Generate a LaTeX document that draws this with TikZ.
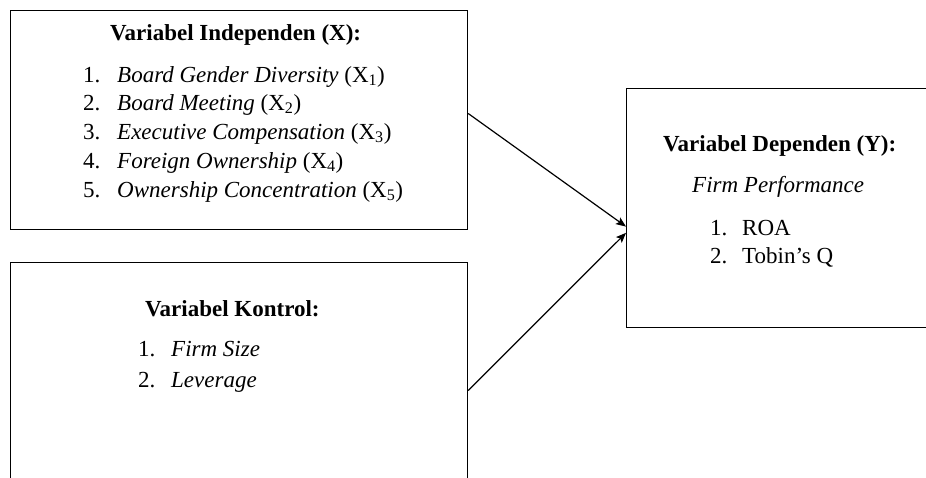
\documentclass[tikz,border=0pt]{standalone}
\usepackage{fontspec}
\setmainfont{Liberation Serif}
\usetikzlibrary{arrows.meta,calc}
\tikzset{
  boxst/.style={draw, line width=1.2pt, rectangle, inner sep=0pt, anchor=north west},
  txt/.style={anchor=base west, inner sep=0pt, font=\fontsize{23}{27}\selectfont},
  arr/.style={line width=1.2pt, -{Stealth[length=10pt,width=8pt,inset=2pt]}}
}
\begin{document}
\begin{tikzpicture}[x=1pt,y=-1pt]
\useasboundingbox (0,0) rectangle (926,477);
\clip (0,0) rectangle (926,477);
% boxes
\node[boxst, minimum width=457pt, minimum height=219pt] (indep) at (10,10) {};
\node[boxst, minimum width=457pt, minimum height=240pt] (ctrl) at (10,262) {};
\node[boxst, minimum width=320pt, minimum height=239pt] (dep) at (626,88) {};
% box 1 text
\node[txt] (t1) at (110,40) {\textbf{Variabel Independen (X):}};
\node[txt] (n11) at (83,82) {1.};
\node[txt] (i11) at (117,82) {\textit{Board Gender Diversity} (X\textsubscript{1})};
\node[txt] (n12) at (83,110) {2.};
\node[txt] (i12) at (117,110) {\textit{Board Meeting} (X\textsubscript{2})};
\node[txt] (n13) at (83,139) {3.};
\node[txt] (i13) at (117,139) {\textit{Executive Compensation} (X\textsubscript{3})};
\node[txt] (n14) at (83,168) {4.};
\node[txt] (i14) at (117,168) {\textit{Foreign Ownership} (X\textsubscript{4})};
\node[txt] (n15) at (83,197) {5.};
\node[txt] (i15) at (117,197) {\textit{Ownership Concentration} (X\textsubscript{5})};
% box 2 text
\node[txt] (t2) at (145,316) {\textbf{Variabel Kontrol:}};
\node[txt] (n21) at (138,356) {1.};
\node[txt] (i21) at (171,356) {\textit{Firm Size}};
\node[txt] (n22) at (138,387) {2.};
\node[txt] (i22) at (171,387) {\textit{Leverage}};
% box 3 text
\node[txt] (t3) at (663,151) {\textbf{Variabel Dependen (Y):}};
\node[txt] (fp) at (692,192) {\textit{Firm Performance}};
\node[txt] (n31) at (710,235) {1.};
\node[txt] (i31) at (742,235) {ROA};
\node[txt] (n32) at (710,263) {2.};
\node[txt] (i32) at (742,263) {Tobin’s Q};
% arrows
\draw[arr] ($(indep.north east)!0.47!(indep.south east)$) -- ($(dep.north west)!0.577!(dep.south west)$);
\draw[arr] ($(ctrl.north east)!0.533!(ctrl.south east)$) -- ($(dep.north west)!0.603!(dep.south west)$);
\end{tikzpicture}
\end{document}
